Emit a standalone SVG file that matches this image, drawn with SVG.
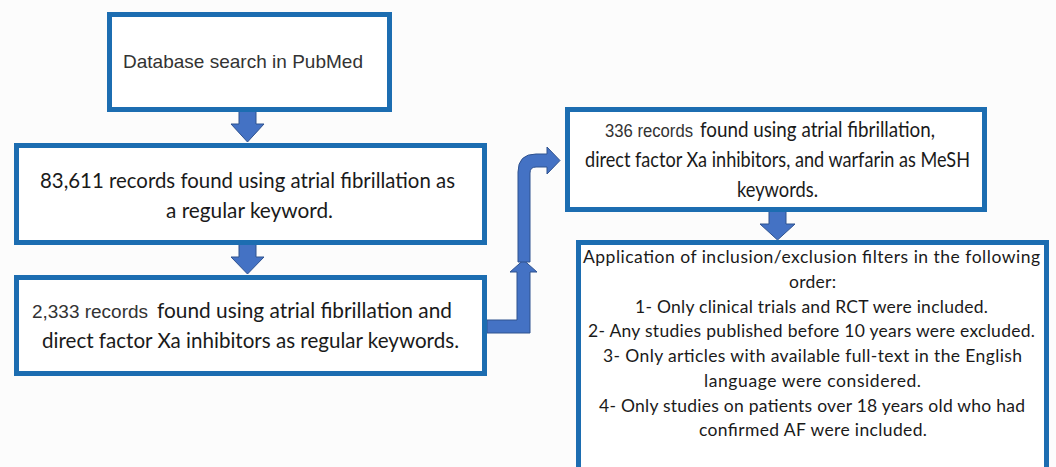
<svg xmlns="http://www.w3.org/2000/svg" width="1056" height="467" viewBox="0 0 1056 467">
<defs>
<style>
.box{fill:#ffffff;stroke:#1c6db1;stroke-width:5}
.arr{fill:#4472c4;stroke:#2f528f;stroke-width:1;stroke-linejoin:miter}
.ar{font-family:"Liberation Sans",Arial,sans-serif;fill:#333333}
.cb{font-family:Lato,"Noto Sans",sans-serif;fill:#1a1a1a}
</style>
</defs>
<rect width="1056" height="467" fill="#fcfcfc"/>
<g id="connectors">
<path class="arr" d="M239,110 L256,110 L256,124 L264,124 L247.5,142 L231,124 L239,124 Z"/>
<path class="arr" d="M239,243 L256,243 L256,257 L264,257 L247.5,274 L231,257 L239,257 Z"/>
<path class="arr" d="M769,210 L786,210 L786,224 L795,224 L777.5,240 L760,224 L769,224 Z"/>
<path class="arr" d="M487,320 L517,320 L517,272 L510,272 L523.5,260 L537,272 L530,272 L530,333 L487,333 Z"/>
<path class="arr" d="M518,262 L518,172 Q518,154 536,154 L547,154 L547,147 L560,160.5 L547,174 L547,167 L536,167 Q530,167 530,173 L530,262 Z"/>
</g>
<g id="n1">
<rect class="box" x="109.5" y="14.5" width="280" height="95"/>
<text class="ar" x="123" y="68" font-size="19" textLength="240">Database search in PubMed</text>
</g>
<g id="n2">
<rect class="box" x="16.5" y="145.5" width="468" height="97"/>
<text class="cb" x="40" y="188" font-size="22" textLength="415" lengthAdjust="spacingAndGlyphs">83,611 records found using atrial fibrillation as</text>
<text class="cb" x="166" y="218" font-size="22" textLength="167" lengthAdjust="spacingAndGlyphs">a regular keyword.</text>
</g>
<g id="n3">
<rect class="box" x="16.5" y="277.5" width="468" height="96"/>
<text class="ar" x="32" y="318" font-size="18" textLength="116" lengthAdjust="spacingAndGlyphs">2,333 records</text>
<text class="cb" x="157" y="318" font-size="22" textLength="295" lengthAdjust="spacingAndGlyphs">found using atrial fibrillation and</text>
<text class="cb" x="42" y="348" font-size="22" textLength="417" lengthAdjust="spacingAndGlyphs">direct factor Xa inhibitors as regular keywords.</text>
</g>
<g id="n4">
<rect class="box" x="567.5" y="109.5" width="417" height="100"/>
<text class="ar" x="605" y="137" font-size="18" textLength="88" lengthAdjust="spacingAndGlyphs">336 records</text>
<text class="cb" x="700" y="137" font-size="22" textLength="235" lengthAdjust="spacingAndGlyphs">found using atrial fibrillation,</text>
<text class="cb" x="585" y="167" font-size="22" textLength="385" lengthAdjust="spacingAndGlyphs">direct factor Xa inhibitors, and warfarin as MeSH</text>
<text class="cb" x="737" y="197" font-size="22" textLength="81" lengthAdjust="spacingAndGlyphs">keywords.</text>
</g>
<g id="n5">
<rect class="box" x="578.5" y="242.5" width="468" height="240"/>
<text class="cb" font-size="17.5">
<tspan x="583" y="263" textLength="457">Application of inclusion/exclusion filters in the following</tspan>
<tspan x="789" y="288" textLength="47">order:</tspan>
<tspan x="635" y="313" textLength="353">1- Only clinical trials and RCT were included.</tspan>
<tspan x="588" y="337" textLength="447">2- Any studies published before 10 years were excluded.</tspan>
<tspan x="603" y="362" textLength="419">3- Only articles with available full-text in the English</tspan>
<tspan x="704" y="387" textLength="217">language were considered.</tspan>
<tspan x="599" y="412" textLength="426">4- Only studies on patients over 18 years old who had</tspan>
<tspan x="699" y="436" textLength="228">confirmed AF were included.</tspan>
</text>
</g>
</svg>
